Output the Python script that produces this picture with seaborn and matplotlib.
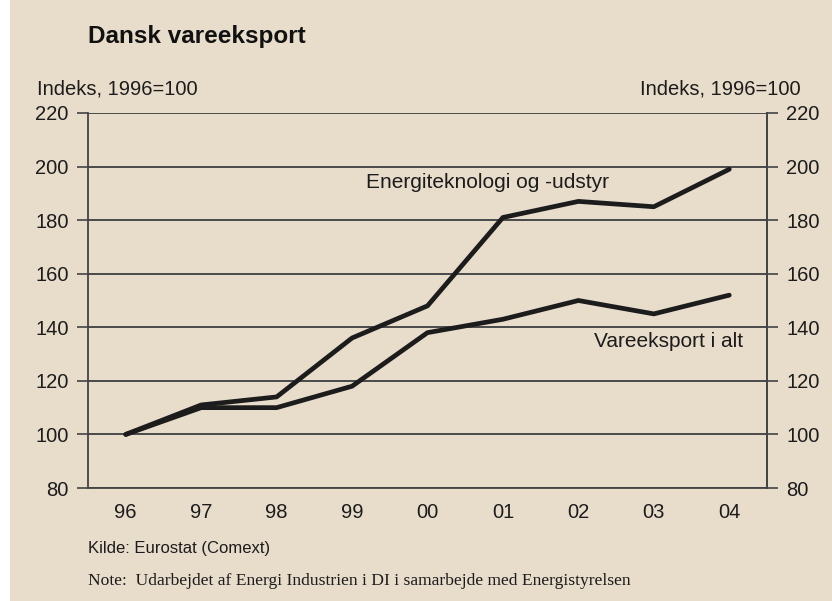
import numpy as np
import matplotlib.pyplot as plt
import pandas as pd
import seaborn as sns

# Data (index, 1996=100)
years = ['96', '97', '98', '99', '00', '01', '02', '03', '04']
energi = [100, 111, 114, 136, 148, 181, 187, 185, 199]
vare = [100, 110, 110, 118, 138, 143, 150, 145, 152]
yticks = [80, 100, 120, 140, 160, 180, 200, 220]

bg = '#e8dcca'
ink = '#1c1c1c'

df = pd.DataFrame({'year': years * 2,
                   'index': energi + vare,
                   'serie': ['Energiteknologi og -udstyr'] * len(years) + ['Vareeksport i alt'] * len(years)})

sns.set_style('white')
plt.rcParams['font.family'] = ['Liberation Sans', 'DejaVu Sans']

fig = plt.figure(figsize=(8.32, 6.01), dpi=100, facecolor=bg)
# thin white strip at the left edge of the scan
fig.patches.append(plt.Rectangle((0, 0), 10 / 832, 1, transform=fig.transFigure,
                                 facecolor='white', edgecolor='none', zorder=0))

ax = fig.add_axes([88 / 832, 1 - 488 / 601, (767 - 88) / 832, (488 - 113) / 601])
ax.set_facecolor(bg)

sns.lineplot(data=df, x='year', y='index', hue='serie', palette=[ink, ink],
             linewidth=3.4, legend=False, sort=False, ax=ax, zorder=3)

ax.set_xlim(-0.5, len(years) - 0.5)
ax.set_ylim(80, 220)
ax.set_yticks(yticks)
ax.set_xticks(range(len(years)))
ax.set_xticklabels(years)
ax.set_xlabel('')
ax.set_ylabel('')

# tick marks between categories
ax.set_xticks(np.arange(-0.5, len(years), 1), minor=True)
ax.tick_params(axis='x', which='major', length=0, pad=11, labelsize=14.5, labelcolor=ink)
ax.tick_params(axis='x', which='minor', length=8, width=1.2, color='#444444', direction='out')
ax.tick_params(axis='y', length=8, width=1.2, color='#444444', direction='out',
               pad=6, labelsize=14.5, labelcolor=ink)

for y in yticks:
    ax.axhline(y, color='#4a4a4a', linewidth=1.4, zorder=1)

for side in ['left', 'right', 'bottom']:
    ax.spines[side].set_color('#444444')
    ax.spines[side].set_linewidth(1.3)
ax.spines['top'].set_visible(False)

ax2 = ax.twinx()
ax2.set_ylim(80, 220)
ax2.set_yticks(yticks)
ax2.tick_params(axis='y', length=8, width=1.2, color='#444444', direction='out',
                pad=6, labelsize=14.5, labelcolor=ink)
for side in ['left', 'top', 'bottom']:
    ax2.spines[side].set_visible(False)
ax2.spines['right'].set_color('#444444')
ax2.spines['right'].set_linewidth(1.3)

# series labels
ax.text(4.79, 193.9, 'Energiteknologi og -udstyr', fontsize=15, color=ink,
        ha='center', va='center', zorder=4)
ax.text(7.2, 134.6, 'Vareeksport i alt', fontsize=15, color=ink,
        ha='center', va='center', zorder=4)

# titles and axis captions
fig.text(88 / 832, 1 - 37 / 601, 'Dansk vareeksport', fontsize=17.5, fontweight='bold',
         color='#111111', ha='left', va='center')
fig.text(37 / 832, 1 - 89 / 601, 'Indeks, 1996=100', fontsize=14.5, color=ink,
         ha='left', va='center')
fig.text(801 / 832, 1 - 89 / 601, 'Indeks, 1996=100', fontsize=14.5, color=ink,
         ha='right', va='center')

# footer
fig.text(88 / 832, 1 - 549 / 601, 'Kilde: Eurostat (Comext)', fontsize=12, color=ink,
         ha='left', va='center')
fig.text(88 / 832, 1 - 581 / 601,
         'Note:  Udarbejdet af Energi Industrien i DI i samarbejde med Energistyrelsen',
         fontsize=12.6, color=ink, ha='left', va='center',
         family=['Liberation Serif', 'DejaVu Serif'])

fig.savefig('out.png', dpi=100, facecolor=bg)
